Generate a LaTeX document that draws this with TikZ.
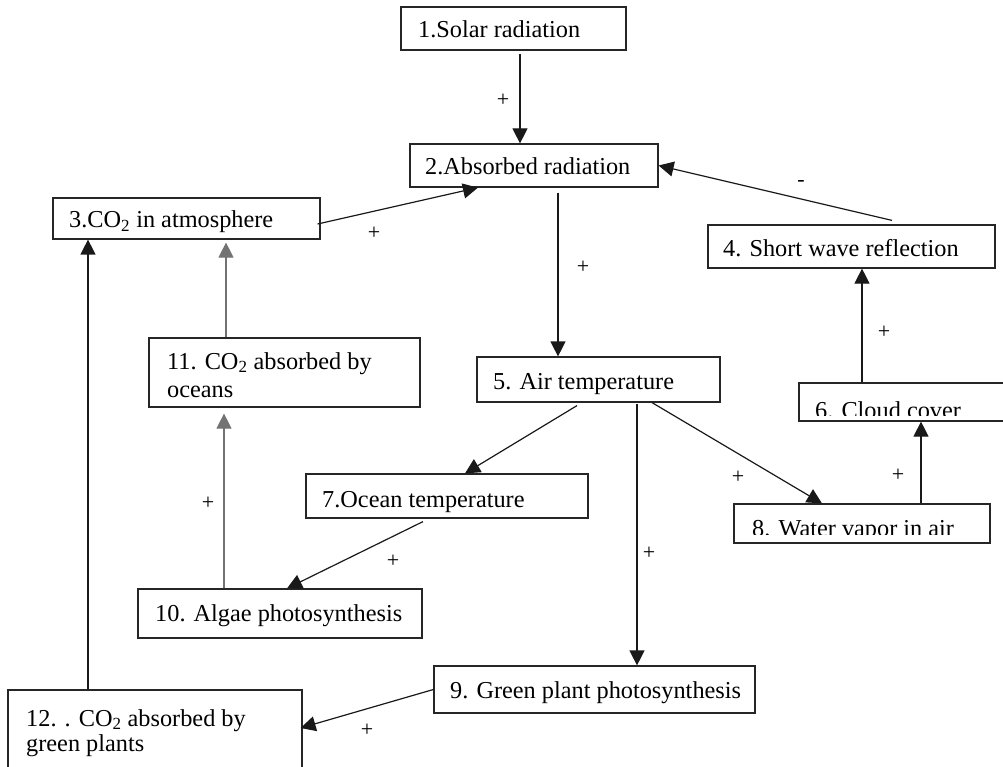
\documentclass[tikz,border=0pt]{standalone}
\usepackage{fontspec}
\setmainfont{Liberation Serif}
\usetikzlibrary{arrows.meta,calc}
\begin{document}
\begin{tikzpicture}[x=1pt,y=-1pt,
  box/.style={draw=black!85,line width=1.2pt,rectangle,inner sep=0pt},
  txt/.style={anchor=base west,inner sep=0pt,font=\fontsize{24.3}{28}\selectfont},
  sign/.style={inner sep=0pt,font=\fontsize{22}{24}\selectfont},
  link/.style={draw=black!90,line width=1.2pt,-{Triangle[length=15pt,width=15pt]}},
  greylink/.style={link,draw=black!55}]
\useasboundingbox (0,0) rectangle (1003,767);
\fill[white] (0,0) rectangle (1003,767);

% boxes
\node[box,minimum width=225pt,minimum height=43pt] (n1) at (513.5,28.5) {};
\node[box,minimum width=248pt,minimum height=43pt] (n2) at (534,165.5) {};
\node[box,minimum width=267pt,minimum height=41pt] (n3) at (186.5,218.5) {};
\node[box,minimum width=287pt,minimum height=43pt] (n4) at (851.5,246.5) {};
\node[box,minimum width=243pt,minimum height=45pt] (n5) at (598.5,379.5) {};
\node[box,minimum width=241pt,minimum height=38pt] (n6) at (919.5,402) {};
\node[box,minimum width=282pt,minimum height=44pt] (n7) at (447,496) {};
\node[box,minimum width=256pt,minimum height=39pt] (n8) at (862,523.5) {};
\node[box,minimum width=321pt,minimum height=47pt] (n9) at (594.5,689.5) {};
\node[box,minimum width=284pt,minimum height=49pt] (n10) at (280,613.5) {};
\node[box,minimum width=271pt,minimum height=69pt] (n11) at (284.5,372.5) {};
\node[box,minimum width=294pt,minimum height=100pt] (n12) at (155,740) {};

% box texts
\node[txt] (t1) at (418,38) {1.Solar radiation};
\node[txt] (t2) at (425,175) {2.Absorbed radiation};
\node[txt] (t3) at (69,228) {3.CO\textsubscript{2} in atmosphere};
\node[txt] (t4) at (723,257) {4. Short wave reflection};
\node[txt] (t5) at (493,389) {5. Air temperature};
\begin{scope}
  \clip (799,383) rectangle (1003,415);
  \node[txt] (t6) at (815,418) {6. Cloud cover};
\end{scope}
\node[txt] (t7) at (322,507) {7.Ocean temperature};
\begin{scope}
  \clip (734,504) rectangle (990,534.5);
  \node[txt] (t8) at (752,536) {8. Water vapor in air};
\end{scope}
\node[txt] (t9) at (450,698) {9. Green plant photosynthesis};
\node[txt] (t10) at (155,621) {10. Algae photosynthesis};
\node[txt] (t11a) at (167,369) {11. CO\textsubscript{2} absorbed by};
\node[txt] (t11b) at (167,397) {oceans};
\node[txt] (t12a) at (26,726) {12. . CO\textsubscript{2} absorbed by};
\node[txt] (t12b) at (26,751) {green plants};

% connectors
\draw[link] ([xshift=6.5pt,yshift=-3pt]n1.south) -- ([xshift=-14pt]n2.north);
\draw[link] ([xshift=-3pt,yshift=-5.5pt]n3.east) -- ([xshift=-56pt]n2.south);
\draw[link] ([xshift=40.5pt,yshift=4pt]n4.north) -- (n2.east);
\draw[link] ([xshift=24pt,yshift=-5pt]n2.south) -- ([xshift=-40.5pt]n5.north);
\draw[link] ([xshift=-57.5pt]n6.north) -- ([xshift=10.5pt]n4.south);
\draw[link] ([xshift=-21.5pt,yshift=-3pt]n5.south) -- ([xshift=18pt]n7.north);
\draw[link] ([xshift=53.5pt]n5.south) -- ([xshift=-40pt]n8.north);
\draw[link] ([xshift=38.5pt,yshift=-1pt]n5.south) -- ([xshift=42.5pt]n9.north);
\draw[link] ([xshift=59pt]n8.north) -- ([xshift=1.5pt]n6.south);
\draw[link] ([xshift=-24pt,yshift=-3pt]n7.south) -- ([xshift=7pt]n10.north);
\draw[greylink] ([xshift=-56pt]n10.north) -- ([xshift=-60.5pt,yshift=-6pt]n11.south);
\draw[greylink] ([xshift=-58.5pt]n11.north) -- ([xshift=39.5pt,yshift=-3pt]n3.south);
\draw[link] ([xshift=-67pt]n12.north) -- ([xshift=-98.5pt]n3.south);
\draw[link] (n9.west) -- ([xshift=-2pt,yshift=12pt]n12.east);

% polarity signs
\node[sign] (s12) at (503,100) {+};
\node[sign] (s32) at (374,233) {+};
\node[sign] (s42) at (801,183) {-};
\node[sign] (s25) at (583,267) {+};
\node[sign] (s64) at (884,332) {+};
\node[sign] (s58) at (738,477) {+};
\node[sign] (s59) at (649,553) {+};
\node[sign] (s86) at (898,475) {+};
\node[sign] (s710) at (393,561) {+};
\node[sign] (s1011) at (208,503) {+};
\node[sign] (s912) at (367,730) {+};
\end{tikzpicture}
\end{document}
